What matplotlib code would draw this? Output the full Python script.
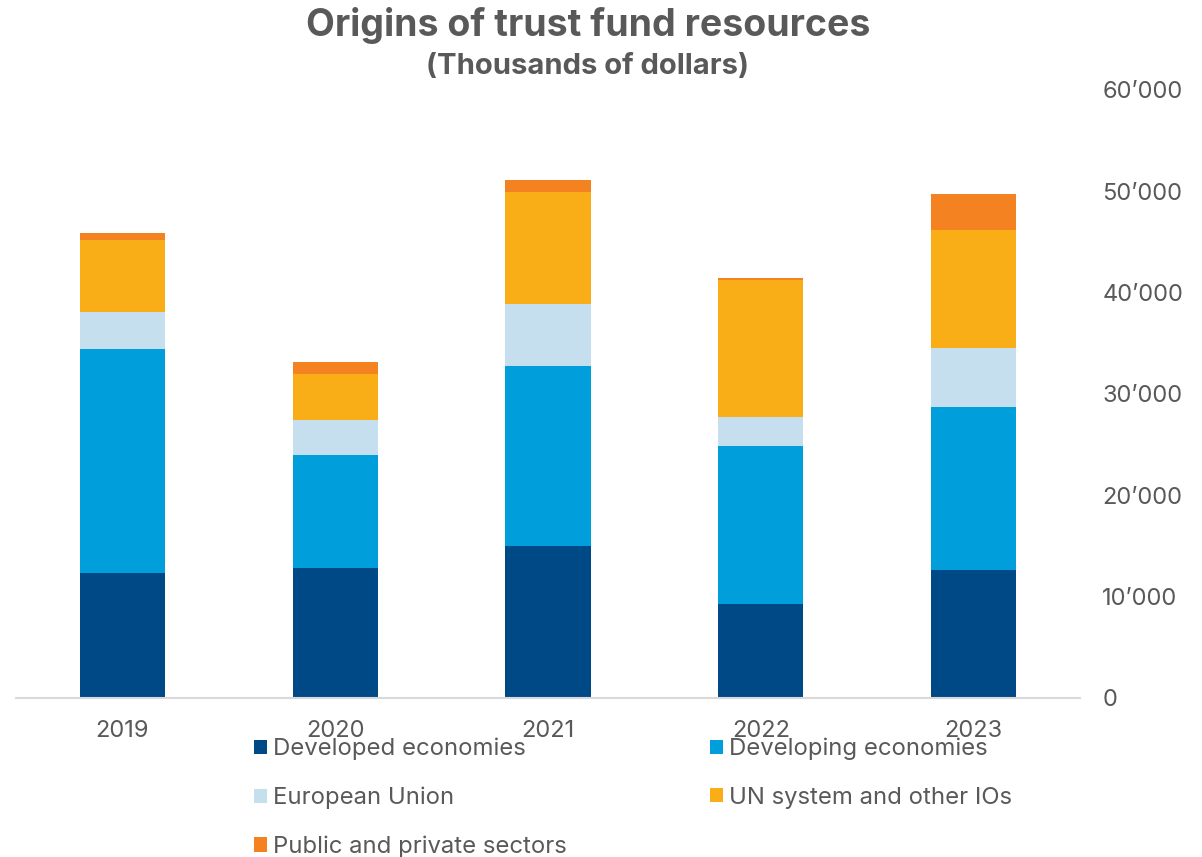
import matplotlib.pyplot as plt
import numpy as np
from matplotlib.ticker import FuncFormatter

years = ["2019", "2020", "2021", "2022", "2023"]
developed = [12350, 12850, 15020, 9290, 12650]
developing = [22140, 11160, 17790, 15540, 16080]
european_union = [3620, 3460, 6090, 2940, 5850]
un_system = [7050, 4480, 11070, 13460, 11570]
public_private = [760, 1220, 1120, 170, 3620]

series = [
    ("Developed economies", developed, "#004987"),
    ("Developing economies", developing, "#009FDB"),
    ("European Union", european_union, "#C6DFEF"),
    ("UN system and other IOs", un_system, "#F9AE18"),
    ("Public and private sectors", public_private, "#F58220"),
]

plt.rcParams["font.family"] = ["Inter", "DejaVu Sans"]
text_color = "#595959"

fig = plt.figure(figsize=(12.02, 8.57), dpi=100)
ax = fig.add_axes([16 / 1202, 1 - 698 / 857, (1080 - 16) / 1202, (698 - 90) / 857])

x = np.arange(len(years))
bottom = np.zeros(len(years))
for label, values, color in series:
    ax.bar(x, values, width=0.4, bottom=bottom, color=color, label=label)
    bottom += np.array(values)

ax.set_xlim(-0.5, len(years) - 0.5)
ax.set_ylim(0, 60000)
ax.set_yticks(range(0, 60001, 10000))
ax.yaxis.set_major_formatter(FuncFormatter(lambda v, _: f"{int(v):,}".replace(",", "\u2019")))
ax.yaxis.tick_right()
ax.set_xticks(x)
ax.set_xticklabels(years)
ax.tick_params(axis="both", length=0, labelsize=17, labelcolor=text_color)
ax.tick_params(axis="y", pad=16)
ax.tick_params(axis="x", pad=16)

for side in ("top", "left", "right"):
    ax.spines[side].set_visible(False)
ax.spines["bottom"].set_color("#D9D9D9")
ax.spines["bottom"].set_linewidth(1.5)

fig.text(0.489, 1 - 25 / 857, "Origins of trust fund resources", ha="center", va="center",
         fontsize=27, fontweight="bold", color=text_color)
fig.text(0.489, 1 - 66 / 857, "(Thousands of dollars)", ha="center", va="center",
         fontsize=21, fontweight="bold", color=text_color)

# legend reads row by row in the reference, matplotlib fills columns first
handles, labels = ax.get_legend_handles_labels()
order = [0, 2, 4, 1, 3]
leg = fig.legend([handles[i] for i in order], [labels[i] for i in order],
                 loc="upper left", bbox_to_anchor=(242 / 1202, 1 - 726 / 857), ncol=2,
                 frameon=False, fontsize=17.2, handlelength=0.55, handleheight=0.55,
                 handletextpad=0.25, columnspacing=6.0, labelspacing=1.1, borderpad=0)
for t in leg.get_texts():
    t.set_color(text_color)

fig.savefig("out.png", dpi=100)
